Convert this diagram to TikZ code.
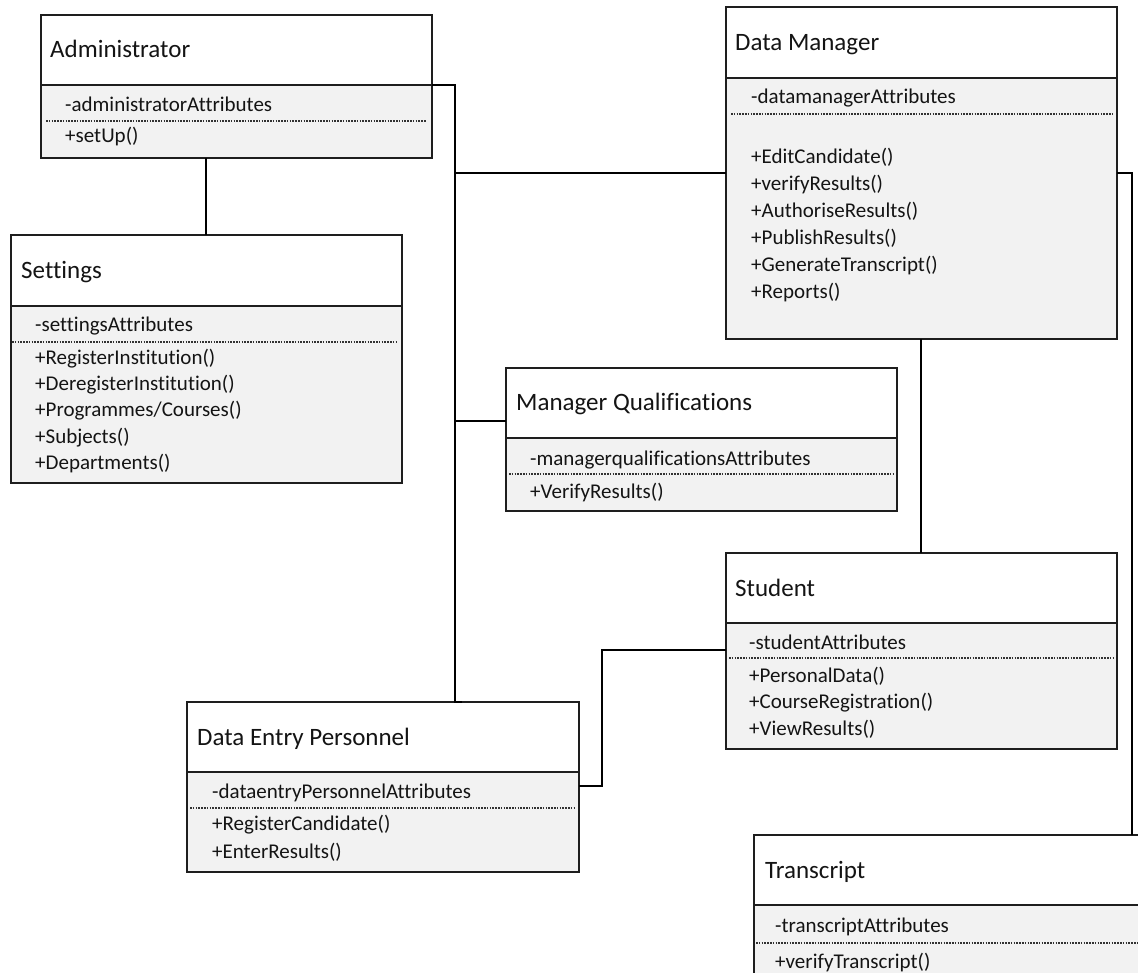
\documentclass[tikz,border=0pt]{standalone}
\usepackage{fontspec}
\setmainfont{Carlito}[Ligatures=NoCommon, RawFeature={-liga;-clig}]
\usetikzlibrary{calc}

\definecolor{boxline}{RGB}{30,30,30}
\definecolor{cmpfill}{RGB}{242,242,242}
\definecolor{sepcol}{RGB}{50,50,50}
\definecolor{txt}{RGB}{20,20,20}

\tikzset{
  hdr/.style={rectangle, draw=boxline, fill=white, line width=1.5pt,
    inner sep=0pt, outer sep=0pt, anchor=north west},
  cmp/.style={rectangle, draw=boxline, fill=cmpfill, line width=1.5pt,
    inner sep=0pt, outer sep=0pt, anchor=north west},
  cname/.style={font=\fontsize{25}{30}\selectfont, text=txt, anchor=base west, inner sep=0pt},
  member/.style={font=\fontsize{21}{26}\selectfont, text=txt, anchor=base west, inner sep=0pt},
  sep/.style={draw=sepcol, line width=1.1pt, dash pattern=on 1.5pt off 1.3pt},
  link/.style={draw=black, line width=1.8pt}
}

\begin{document}
\begin{tikzpicture}[x=1pt, y=-1pt]
\clip (0,0) rectangle (1138,973);
\fill[white] (0,0) rectangle (1138,973);

% ---- junction points of the connectors
\coordinate (busDM) at (455,173);
\coordinate (busMQ) at (455,421);
\coordinate (dmTr)  at (1132,173);
\coordinate (stDE)  at (602,650);
\coordinate (deSt)  at (602,786);
\coordinate (setUp) at (206,235);
\coordinate (dmSt)  at (921,339);

% ---- class frames
% Administrator
\node[hdr, minimum width=391, minimum height=70] (adminT) at (41,15) {};
\node[cmp, minimum width=391, minimum height=73] (adminB) at (41,85) {};
% Settings
\node[hdr, minimum width=391, minimum height=71] (setT) at (11,235) {};
\node[cmp, minimum width=391, minimum height=177] (setB) at (11,306) {};
% Data Manager
\node[hdr, minimum width=391, minimum height=71] (dmT) at (726,7) {};
\node[cmp, minimum width=391, minimum height=261] (dmB) at (726,78) {};
% Manager Qualifications
\node[hdr, minimum width=391, minimum height=70] (mqT) at (506,368) {};
\node[cmp, minimum width=391, minimum height=73] (mqB) at (506,438) {};
% Student
\node[hdr, minimum width=391, minimum height=70] (stT) at (726,553) {};
\node[cmp, minimum width=391, minimum height=126] (stB) at (726,623) {};
% Data Entry Personnel
\node[hdr, minimum width=392, minimum height=70] (deT) at (187,702) {};
\node[cmp, minimum width=392, minimum height=100] (deB) at (187,772) {};
% Transcript
\node[hdr, minimum width=420, minimum height=70] (trT) at (754,835) {};
\node[cmp, minimum width=420, minimum height=100] (trB) at (754,905) {};

% ---- connectors
\draw[link] (setUp |- setT.north) -- (setUp |- adminB.south);
\draw[link] (adminB.north east) -| (busMQ) -- (busMQ |- deT.north) -- ++(7,0);
\draw[link] (busDM) -- (busDM -| dmB.west);
\draw[link] (busMQ) -- (busMQ -| mqT.west);
\draw[link] (busDM -| dmB.east) -- (dmTr) -- (dmTr |- trT.north);
\draw[link] (dmSt |- dmB.south) -- (dmSt |- stT.north);
\draw[link] (stDE -| stB.west) -- (stDE) -- (deSt) -- (deSt -| deB.east);

% ---- compartment separators
\draw[sep] (46,121) -- (426,121);
\draw[sep] (12,342) -- (396,342);
\draw[sep] (731,114) -- (1112,114);
\draw[sep] (509,474) -- (893,474);
\draw[sep] (729,658) -- (1113,658);
\draw[sep] (190,808) -- (574,808);
\draw[sep] (756,943) -- (1138,943);

% ---- Administrator
\node[cname] (adminName) at (50,58) {Administrator};
\node[member] (adminA) at (65,112) {-administratorAttributes};
\node[member] (adminM1) at (65,143) {+setUp()};

% ---- Settings
\node[cname] (setName) at (21,279) {Settings};
\node[member] (setA) at (35,332) {-settingsAttributes};
\node[member] (setM1) at (35,365) {+RegisterInstitution()};
\node[member] (setM2) at (35,391) {+DeregisterInstitution()};
\node[member] (setM3) at (35,417) {+Programmes/Courses()};
\node[member] (setM4) at (35,443) {+Subjects()};
\node[member] (setM5) at (35,469) {+Departments()};

% ---- Data Manager
\node[cname] (dmName) at (735,51) {Data Manager};
\node[member] (dmA) at (751,104) {-datamanagerAttributes};
\node[member] (dmM1) at (751,164) {+EditCandidate()};
\node[member] (dmM2) at (751,191) {+verifyResults()};
\node[member] (dmM3) at (751,218) {+AuthoriseResults()};
\node[member] (dmM4) at (751,245) {+PublishResults()};
\node[member] (dmM5) at (751,272) {+GenerateTranscript()};
\node[member] (dmM6) at (751,299) {+Reports()};

% ---- Manager Qualifications
\node[cname] (mqName) at (516,411) {Manager Qualifications};
\node[member] (mqA) at (530,465) {-managerqualificationsAttributes};
\node[member] (mqM1) at (530,498) {+VerifyResults()};

% ---- Student
\node[cname] (stName) at (735,596) {Student};
\node[member] (stA) at (749,649) {-studentAttributes};
\node[member] (stM1) at (749,682) {+PersonalData()};
\node[member] (stM2) at (749,708) {+CourseRegistration()};
\node[member] (stM3) at (749,735) {+ViewResults()};

% ---- Data Entry Personnel
\node[cname] (deName) at (197,745) {Data Entry Personnel};
\node[member] (deA) at (212,798) {-dataentryPersonnelAttributes};
\node[member] (deM1) at (212,830) {+RegisterCandidate()};
\node[member] (deM2) at (212,858) {+EnterResults()};

% ---- Transcript
\node[cname] (trName) at (765,878) {Transcript};
\node[member] (trA) at (775,932) {-transcriptAttributes};
\node[member] (trM1) at (775,968) {+verifyTranscript()};
\end{tikzpicture}
\end{document}
